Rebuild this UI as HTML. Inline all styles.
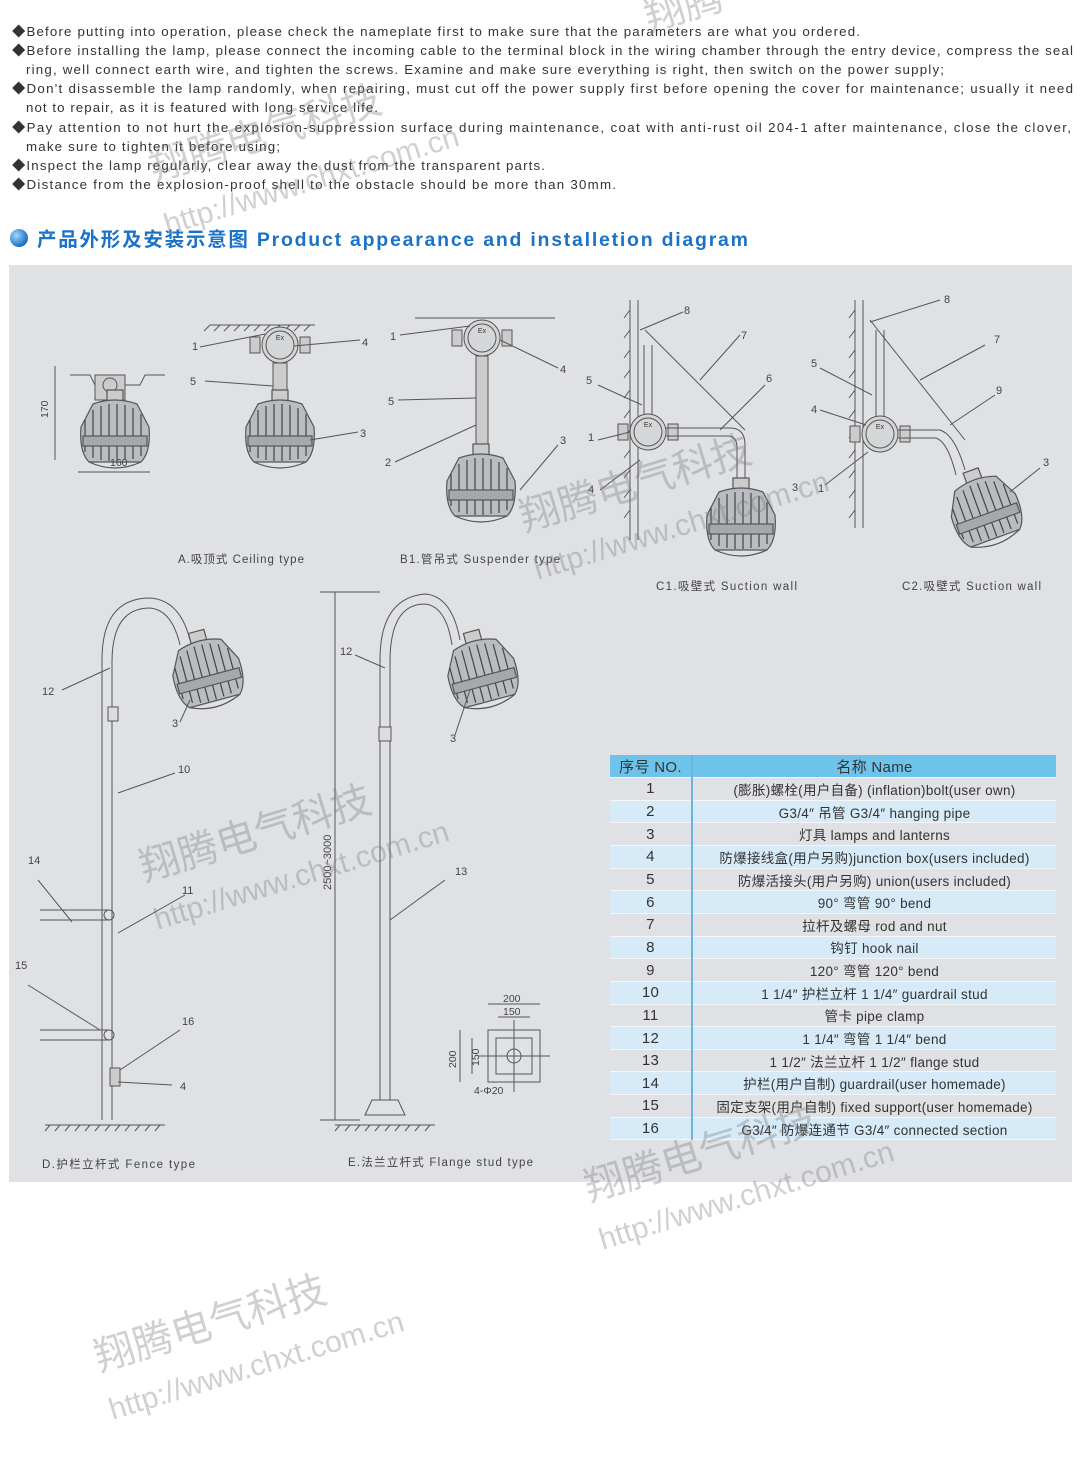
<!DOCTYPE html>
<html><head><meta charset="utf-8">
<style>
*{margin:0;padding:0;box-sizing:border-box}
body{width:1085px;height:1460px;background:#fff;position:relative;overflow:hidden;font-family:"Liberation Sans","Noto Sans CJK SC",sans-serif;color:#333}
.panel{position:absolute;left:9px;top:265px;width:1063px;height:917px;background:#dfe1e4}
table{position:absolute;left:610px;top:755px;width:446px;border-collapse:collapse;font-size:13.5px;color:#333}
td{height:22.65px;text-align:center;padding:0;white-space:nowrap;border-bottom:1px solid #f4f6f8;letter-spacing:0.3px}
td:first-child{width:82px;border-right:2px solid #6ab5e0;font-size:15px}
tr.b td{background:#d6eaf8}
tr.hd td{background:#6ec3ea;font-size:15px}
.wm{position:absolute;color:rgba(120,120,120,0.35);font-size:40px;transform:rotate(-17deg);transform-origin:left top;white-space:nowrap;line-height:1}
.wm2{position:absolute;color:rgba(120,120,120,0.35);font-size:30px;transform:rotate(-17deg);transform-origin:left top;white-space:nowrap}
</style></head><body>
<div class="panel"></div>
<svg style="position:absolute;left:0;top:0" width="1085" height="1460" font-family="Liberation Sans, Noto Sans CJK SC, sans-serif" font-size="11" fill="#444">
<defs>
<radialGradient id="dg" cx="35%" cy="35%" r="65%"><stop offset="0" stop-color="#9fd8ff"/><stop offset="1" stop-color="#1a6fc0"/></radialGradient>
<g id="lamp" stroke="#555" stroke-width="1.2" fill="#b9bcc0">
<rect x="-8" y="-42" width="16" height="12" fill="#ccc"/>
<path d="M-22,-28 Q0,-36 22,-28 L34,-5 Q36,20 26,30 L-26,30 Q-36,20 -34,-5 Z"/>
<path d="M-22,-22 V26 M-14,-26 V28 M-6,-28 V29 M2,-28 V29 M10,-27 V28 M18,-24 V27 M26,-18 V24 M-30,-12 V20" stroke="#444"/>
<rect x="-32" y="4" width="64" height="10" fill="#a5a8ac"/>
<path d="M-26,30 Q0,42 26,30" fill="none"/>
</g>
<g id="box" stroke="#555" fill="#ccc" stroke-width="1">
<rect x="-30" y="-8" width="10" height="16"/><rect x="20" y="-8" width="10" height="16"/>
<circle r="18" fill="#d4d6d8"/><circle r="14" fill="none"/>
<text y="-5" font-size="7" text-anchor="middle" fill="#333" stroke="none">Ex</text>
</g>
</defs>
<g fill="#333" font-size="13.3" lengthAdjust="spacing">
<text x="12" y="36" textLength="848" lengthAdjust="spacing">◆Before putting into operation, please check the nameplate first to make sure that the parameters are what you ordered.</text>
<text x="12" y="55" textLength="1061" lengthAdjust="spacing">◆Before installing the lamp, please connect the incoming cable to the terminal block in the wiring chamber through the entry device, compress the seal</text>
<text x="26" y="74" textLength="918" lengthAdjust="spacing">ring, well connect earth wire, and tighten the screws. Examine and make sure everything is right, then switch on the power supply;</text>
<text x="12" y="93" textLength="1061" lengthAdjust="spacing">◆Don't disassemble the lamp randomly, when repairing, must cut off the power supply first before opening the cover for maintenance; usually it need</text>
<text x="26" y="112" textLength="352" lengthAdjust="spacing">not to repair, as it is featured with long service life.</text>
<text x="12" y="132" textLength="1059" lengthAdjust="spacing">◆Pay attention to not hurt the explosion-suppression surface during maintenance, coat with anti-rust oil 204-1 after maintenance, close the clover,</text>
<text x="26" y="151" textLength="254" lengthAdjust="spacing">make sure to tighten it before using;</text>
<text x="12" y="170" textLength="533" lengthAdjust="spacing">◆Inspect the lamp regularly, clear away the dust from the transparent parts.</text>
<text x="12" y="189" textLength="604" lengthAdjust="spacing">◆Distance from the explosion-proof shell to the obstacle should be more than 30mm.</text>
</g>
<circle cx="19" cy="238" r="9" fill="url(#dg)"/>
<text x="37" y="246" font-size="19.5" font-weight="bold" fill="#1a73c8" textLength="711" lengthAdjust="spacing">产品外形及安装示意图 Product appearance and installetion diagram</text>
<g stroke="#555" fill="none" stroke-width="1">
<!-- A -->
<path d="M70,375 H90 L95,385 H140 L145,375 H165"/><rect x="95" y="375" width="30" height="25" fill="#ccc"/><circle cx="110" cy="385" r="7"/>
<use href="#lamp" x="115" y="432"/>
<path d="M55,366 V460 M78,472 H150"/>
<path d="M210,325 H315" /><path d="M210,325 l-6,6 M220,325 l-6,6 M230,325 l-6,6 M240,325 l-6,6 M250,325 l-6,6 M260,325 l-6,6 M270,325 l-6,6 M280,325 l-6,6 M290,325 l-6,6 M300,325 l-6,6 M310,325 l-6,6"/>
<use href="#box" x="280" y="345"/>
<rect x="273" y="363" width="14" height="35" fill="#ccc"/>
<use href="#lamp" x="280" y="432"/>
<path d="M200,347 L265,334 M294,346 L360,340 M205,381 L273,386 M310,440 L358,432"/>
<!-- B1 -->
<path d="M415,318 H555"/><use href="#box" x="482" y="338"/>
<rect x="476" y="356" width="12" height="100" fill="#ccc"/>
<use href="#lamp" x="481" y="486"/>
<path d="M400,335 L470,326 M500,340 L558,368 M398,400 L476,398 M395,462 L476,425 M520,490 L558,445"/>
<!-- C1 -->
<path d="M630,300 V540 M638,300 V540"/><path d="M630,310 l-6,8 M630,330 l-6,8 M630,350 l-6,8 M630,370 l-6,8 M630,390 l-6,8 M630,410 l-6,8 M630,430 l-6,8 M630,450 l-6,8 M630,470 l-6,8 M630,490 l-6,8 M630,510 l-6,8"/>
<path d="M645,330 L745,430"/><use href="#box" x="648" y="432"/>
<path d="M644,345 V415 M652,345 V415" /><path d="M666,428 H730 Q745,428 745,445 V480 M666,436 H728 Q737,436 737,448 V480"/>
<use href="#lamp" x="741" y="520"/>
<path d="M598,385 L642,405 M598,440 L630,432 M600,490 L640,460 M640,330 L683,312 M700,380 L740,335 M720,430 L765,385"/>
<!-- C2 -->
<path d="M855,300 V528 M863,300 V528"/><path d="M855,310 l-6,8 M855,330 l-6,8 M855,350 l-6,8 M855,370 l-6,8 M855,390 l-6,8 M855,410 l-6,8 M855,430 l-6,8 M855,450 l-6,8 M855,470 l-6,8 M855,490 l-6,8 M855,510 l-6,8"/>
<path d="M870,320 L965,440"/><use href="#box" x="880" y="434"/>
<path d="M876,330 V416 M884,330 V416"/><path d="M898,430 H940 Q955,435 965,470 M898,438 H936 Q948,442 956,475"/>
<use href="#lamp" x="985" y="510" transform="rotate(-20 985 510)"/>
<path d="M820,368 L872,395 M820,410 L866,425 M825,485 L868,452 M870,322 L940,300 M920,380 L985,345 M950,425 L995,395 M1010,492 L1040,468"/>
<!-- D -->
<path d="M102,1120 V660 Q102,598 150,598 Q180,600 190,640 M112,1120 V662 Q112,608 150,608 Q172,610 180,645"/>
<use href="#lamp" x="207" y="672" transform="rotate(-15 207 672)"/>
<rect x="108" y="707" width="10" height="14" fill="#ddd"/>
<path d="M40,910 H110 M40,920 H110 M40,1030 H110 M40,1040 H110"/><circle cx="109" cy="915" r="5"/><circle cx="109" cy="1035" r="5"/>
<rect x="110" y="1068" width="10" height="18" fill="#ccc"/>
<path d="M45,1125 H165"/><path d="M50,1125 l-5,6 M60,1125 l-5,6 M70,1125 l-5,6 M80,1125 l-5,6 M90,1125 l-5,6 M100,1125 l-5,6 M110,1125 l-5,6 M120,1125 l-5,6 M130,1125 l-5,6 M140,1125 l-5,6 M150,1125 l-5,6 M160,1125 l-5,6"/>
<path d="M62,690 L110,668 M180,722 L190,700 M118,793 L175,773 M118,933 L185,895 M38,880 L72,922 M28,985 L100,1030 M120,1070 L180,1030 M118,1082 L172,1085"/>
<!-- E -->
<path d="M380,1100 V660 Q380,598 425,594 Q452,596 460,640 M390,1100 V662 Q390,604 425,604 Q446,606 452,645"/>
<use href="#lamp" x="482" y="672" transform="rotate(-15 482 672)"/>
<rect x="379" y="727" width="12" height="14" fill="#ddd"/>
<path d="M365,1115 L372,1100 H398 L405,1115 Z"/>
<path d="M335,1125 H435"/><path d="M340,1125 l-5,6 M350,1125 l-5,6 M360,1125 l-5,6 M370,1125 l-5,6 M380,1125 l-5,6 M390,1125 l-5,6 M400,1125 l-5,6 M410,1125 l-5,6 M420,1125 l-5,6 M430,1125 l-5,6"/>
<path d="M320,592 H380 M320,1120 H360 M335,592 V1120"/>
<path d="M355,655 L385,668 M455,735 L470,690 M390,920 L445,880"/>
<rect x="488" y="1030" width="52" height="52"/><rect x="496" y="1038" width="36" height="36"/><circle cx="514" cy="1056" r="7"/><path d="M478,1056 H550 M514,1020 V1092"/>
<path d="M488,1004 H540 M498,1017 H530 M460,1030 V1082 M472,1038 V1074"/>
</g>
<g fill="#444">
<text x="110" y="466" font-size="10.5">160</text><text x="48" y="418" font-size="10.5" transform="rotate(-90 48 418)">170</text>
<text x="192" y="350">1</text><text x="362" y="346">4</text><text x="190" y="385">5</text><text x="360" y="437">3</text>
<text x="390" y="340">1</text><text x="560" y="373">4</text><text x="388" y="405">5</text><text x="385" y="466">2</text><text x="560" y="444">3</text>
<text x="586" y="384">5</text><text x="588" y="441">1</text><text x="588" y="493">4</text><text x="684" y="314">8</text><text x="741" y="339">7</text><text x="766" y="382">6</text><text x="792" y="491">3</text>
<text x="811" y="367">5</text><text x="811" y="413">4</text><text x="818" y="492">1</text><text x="944" y="303">8</text><text x="994" y="343">7</text><text x="996" y="394">9</text><text x="1043" y="466">3</text>
<text x="42" y="695">12</text><text x="172" y="727">3</text><text x="178" y="773">10</text><text x="28" y="864">14</text><text x="182" y="894">11</text><text x="15" y="969">15</text><text x="182" y="1025">16</text><text x="180" y="1090">4</text>
<text x="340" y="655">12</text><text x="450" y="742">3</text><text x="455" y="875">13</text>
<text x="331" y="890" font-size="11" transform="rotate(-90 331 890)">2500~3000</text>
<text x="503" y="1002" font-size="10.5">200</text><text x="503" y="1015" font-size="10.5">150</text>
<text x="456" y="1068" font-size="10.5" transform="rotate(-90 456 1068)">200</text><text x="479" y="1066" font-size="10.5" transform="rotate(-90 479 1066)">150</text>
<text x="474" y="1094" font-size="10.5">4-Φ20</text>
<text x="178" y="563" font-size="11.5" textLength="126" lengthAdjust="spacing">A.吸顶式 Ceiling type</text>
<text x="400" y="563" font-size="11.5" textLength="160" lengthAdjust="spacing">B1.管吊式 Suspender type</text>
<text x="656" y="590" font-size="11.5" textLength="141" lengthAdjust="spacing">C1.吸壁式  Suction wall</text>
<text x="902" y="590" font-size="11.5" textLength="139" lengthAdjust="spacing">C2.吸壁式  Suction wall</text>
<text x="42" y="1168" font-size="11.5" textLength="153" lengthAdjust="spacing">D.护栏立杆式  Fence type</text>
<text x="348" y="1166" font-size="11.5" textLength="185" lengthAdjust="spacing">E.法兰立杆式  Flange stud type</text>
</g>
</svg>
<table>
<tr class="hd"><td>序号 NO.</td><td>名称 Name</td></tr>
<tr><td>1</td><td>(膨胀)螺栓(用户自备) (inflation)bolt(user own)</td></tr>
<tr class="b"><td>2</td><td>G3/4″ 吊管 G3/4″ hanging pipe</td></tr>
<tr><td>3</td><td>灯具 lamps and lanterns</td></tr>
<tr class="b"><td>4</td><td>防爆接线盒(用户另购)junction box(users included)</td></tr>
<tr><td>5</td><td>防爆活接头(用户另购) union(users included)</td></tr>
<tr class="b"><td>6</td><td>90° 弯管 90° bend</td></tr>
<tr><td>7</td><td>拉杆及螺母 rod and nut</td></tr>
<tr class="b"><td>8</td><td>钩钉 hook nail</td></tr>
<tr><td>9</td><td>120° 弯管 120° bend</td></tr>
<tr class="b"><td>10</td><td>1 1/4″ 护栏立杆 1 1/4″ guardrail stud</td></tr>
<tr><td>11</td><td>管卡 pipe clamp</td></tr>
<tr class="b"><td>12</td><td>1 1/4″ 弯管 1 1/4″ bend</td></tr>
<tr><td>13</td><td>1 1/2″ 法兰立杆 1 1/2″ flange stud</td></tr>
<tr class="b"><td>14</td><td>护栏(用户自制) guardrail(user homemade)</td></tr>
<tr><td>15</td><td>固定支架(用户自制) fixed support(user homemade)</td></tr>
<tr class="b"><td>16</td><td>G3/4″ 防爆连通节 G3/4″ connected section</td></tr>
</table>
<div class="wm" style="left:145px;top:150px">翔腾电气科技</div><div class="wm2" style="left:160px;top:210px">http://www.chxt.com.cn</div>
<div class="wm" style="left:515px;top:500px">翔腾电气科技</div><div class="wm2" style="left:530px;top:555px">http://www.chxt.com.cn</div>
<div class="wm" style="left:135px;top:850px">翔腾电气科技</div><div class="wm2" style="left:150px;top:905px">http://www.chxt.com.cn</div>
<div class="wm" style="left:580px;top:1170px">翔腾电气科技</div><div class="wm2" style="left:595px;top:1225px">http://www.chxt.com.cn</div>
<div class="wm" style="left:90px;top:1340px">翔腾电气科技</div><div class="wm2" style="left:105px;top:1395px">http://www.chxt.com.cn</div>
<div class="wm" style="left:640px;top:0px">翔腾</div>
</body></html>
